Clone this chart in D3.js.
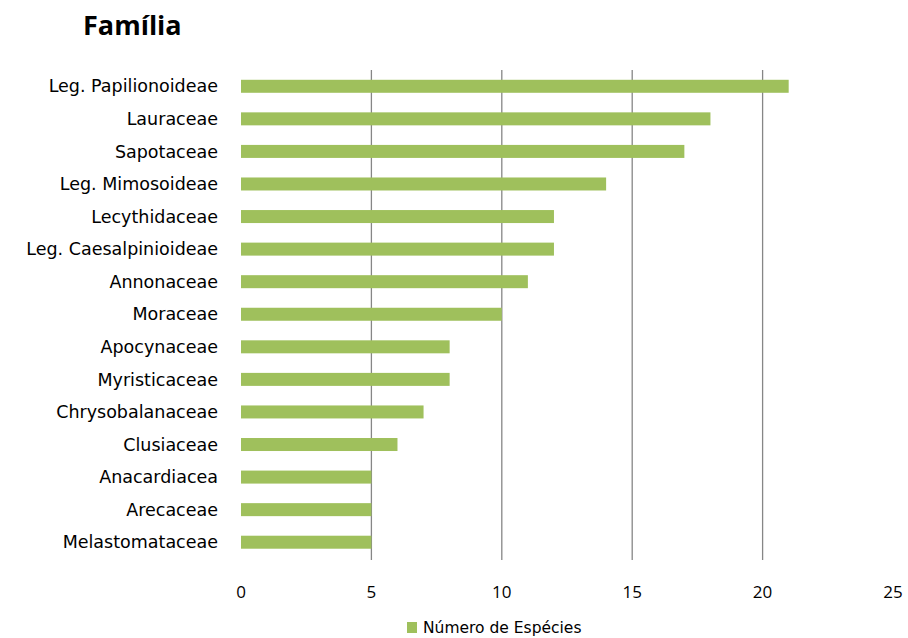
<!DOCTYPE html>
<html><head><meta charset="utf-8">
<script src="https://cdn.jsdelivr.net/npm/d3@7"></script>
<style>body{margin:0;background:#fff}svg{display:block}</style>
</head><body>
<script>
const categories = ["Leg. Papilionoideae","Lauraceae","Sapotaceae","Leg. Mimosoideae","Lecythidaceae","Leg. Caesalpinioideae","Annonaceae","Moraceae","Apocynaceae","Myristicaceae","Chrysobalanaceae","Clusiaceae","Anacardiacea","Arecaceae","Melastomataceae"];
const values = [21,18,17,14,12,12,11,10,8,8,7,6,5,5,5];
const ticks = [0,5,10,15,20,25];
const seriesName = "Número de Espécies";
const title = "Família";

const W=908,H=638;
const svg=d3.select("body").append("svg").attr("width",W).attr("height",H);
const font="'Open Sans', 'Liberation Sans', sans-serif";
const font2="'DejaVu Sans', sans-serif";
const x=d3.scaleLinear().domain([0,25]).range([241,893]);
const y=d3.scaleBand().domain(categories).range([70,558.5]).paddingInner(0.6).paddingOuter(0.3);

svg.append("text").attr("x",83).attr("y",35).attr("font-family",font).attr("font-weight","bold").attr("font-size",27).attr("fill","#000").text(title);

svg.append("g").selectAll("line").data(ticks.filter(t=>t>0&&t<25)).join("line")
 .attr("x1",d=>x(d)).attr("x2",d=>x(d)).attr("y1",70).attr("y2",560)
 .attr("stroke","#868686").attr("stroke-width",1.3);

const bw=13;
svg.append("g").selectAll("rect").data(values).join("rect")
 .attr("x",x(0)).attr("y",(d,i)=>y(categories[i])+y.bandwidth()/2-bw/2)
 .attr("width",d=>x(d)-x(0)).attr("height",bw).attr("fill","#9fc05c");

svg.append("g").selectAll("text").data(categories).join("text")
 .attr("x",218).attr("y",d=>y(d)+y.bandwidth()/2).attr("dy","0.35em")
 .attr("text-anchor","end").attr("font-family",font2).attr("font-size",17.5).attr("fill","#000").text(d=>d);

svg.append("g").selectAll("text").data(ticks).join("text")
 .attr("x",d=>x(d)).attr("y",598).attr("text-anchor","middle")
 .attr("font-family",font).attr("font-size",17).attr("fill","#000").text(d=>d);

svg.append("rect").attr("x",407).attr("y",622).attr("width",10).attr("height",11).attr("fill","#9fc05c");
svg.append("text").attr("x",423).attr("y",633).attr("font-family",font2).attr("font-size",15.5).attr("fill","#000").text(seriesName);
</script>
</body></html>
